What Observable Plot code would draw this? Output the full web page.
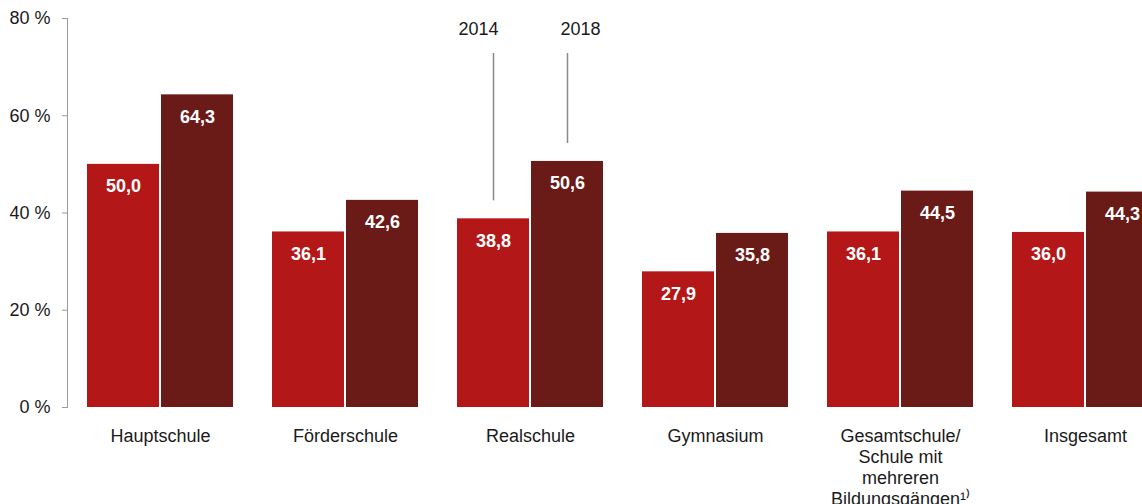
<!DOCTYPE html>
<html><head><meta charset="utf-8">
<script src="https://cdn.jsdelivr.net/npm/d3@7"></script>
<script src="https://cdn.jsdelivr.net/npm/@observablehq/plot@0.6"></script>
<style>
html,body{margin:0;padding:0;background:#fff;overflow:hidden}
#wrap{width:1142px;height:504px;overflow:hidden}
#wrap svg{max-width:none !important}
</style></head><body><div id="wrap"></div>
<script>
const schools = ["Hauptschule","Förderschule","Realschule","Gymnasium","Gesamtschule/\nSchule mit\nmehreren\nBildungsgängen¹⁾","Insgesamt"];
const years = ["2014","2018"];
const values2014 = [50.0, 36.1, 38.8, 27.9, 36.1, 36.0];
const values2018 = [64.3, 42.6, 50.6, 35.8, 44.5, 44.3];
const yTicks = [0, 20, 40, 60, 80];
const colors = ["#b41717", "#6b1b17"];
const annotationSchool = "Realschule";

const data = schools.flatMap((s, i) => [
  {school: s, year: years[0], value: values2014[i]},
  {school: s, year: years[1], value: values2018[i]}
]);
const annot = data.filter(d => d.school === annotationSchool);
const fmt = v => v.toFixed(1).replace(".", ",");

const chart = Plot.plot({
  width: 1178, height: 504,
  marginLeft: 67, marginRight: 0, marginTop: 18, marginBottom: 97,
  style: {fontFamily: "Arial, 'Liberation Sans', sans-serif", fontSize: "18px", color: "#1a1a1a", background: "#fff", maxWidth: "none"},
  fx: {domain: schools, paddingInner: 0.2108, paddingOuter: 0.108, label: null},
  x: {domain: years, paddingInner: 0.03, paddingOuter: 0, axis: null},
  y: {domain: [0, 80], label: null},
  color: {domain: years, range: colors},
  marks: [
    Plot.axisFx({anchor: "bottom", tickSize: 0, tickPadding: 19, lineHeight: 1.18, label: null, fontSize: 18}),
    Plot.axisY({ticks: yTicks, tickFormat: d => `${d} %`, tickSize: 5, tickPadding: 12, stroke: "#9a9a9a", label: null, fontSize: 18, dx: -20}),
    Plot.frame({anchor: "left", facet: "super", stroke: "#9a9a9a", dx: -20}),
    Plot.barY(data, {fx: "school", x: "year", y: "value", fill: "year"}),
    Plot.text(data, {fx: "school", x: "year", y: "value", text: d => fmt(d.value), dy: 22, fill: "white", fontWeight: "bold", fontSize: 18}),
    Plot.ruleX(annot, {fx: "school", x: "year", y1: 72.8, y2: d => d.value + 3.7, stroke: "#8a8a8a", strokeWidth: 1.5}),
    Plot.text(annot.slice(0, 1), {fx: "school", x: "year", y: 77.7, text: "year", dx: -15, fontSize: 18}),
    Plot.text(annot.slice(1, 2), {fx: "school", x: "year", y: 77.7, text: "year", dx: 13, fontSize: 18})
  ]
});
document.getElementById("wrap").append(chart);
</script></body></html>
